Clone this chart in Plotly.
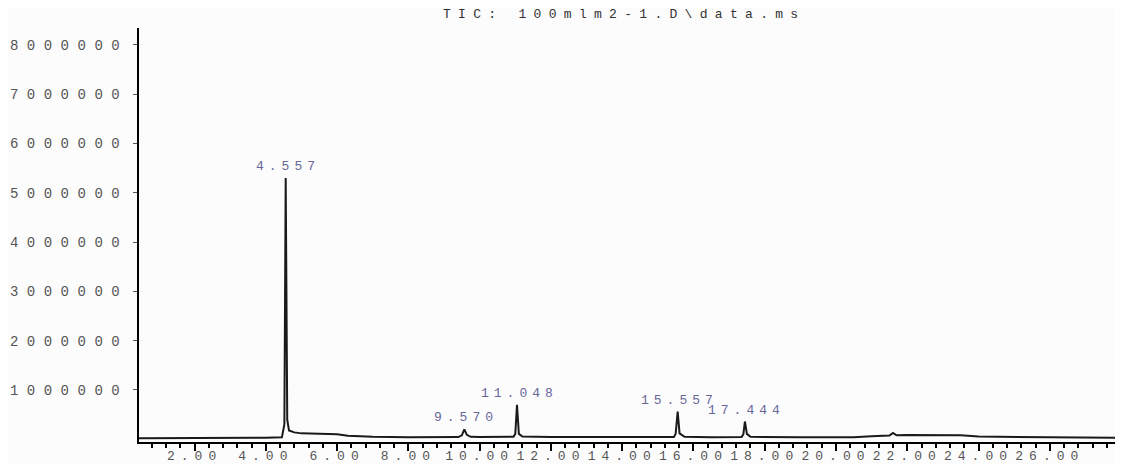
import plotly.graph_objects as go

# ---- data (retention time in min, abundance) ----
times = [0.44, 1.00, 2.00, 3.00, 4.00, 4.45, 4.52, 4.557, 4.60, 4.65, 4.80, 5.00,
         5.50, 6.00, 6.30, 7.00, 8.00, 9.40, 9.50, 9.570, 9.64, 9.75, 10.00,
         10.95, 11.00, 11.048, 11.10, 11.20, 12.00, 14.00, 15.45, 15.50, 15.557,
         15.61, 15.75, 16.50, 17.35, 17.40, 17.444, 17.50, 17.60, 19.00, 20.50,
         21.00, 21.50, 21.60, 21.70, 22.00, 22.50, 23.50, 24.00, 26.00, 27.83]
abundance = [20000, 20000, 25000, 25000, 30000, 40000, 300000, 5300000, 400000,
             180000, 140000, 120000, 110000, 100000, 70000, 50000, 40000, 45000,
             80000, 200000, 90000, 50000, 45000, 50000, 110000, 700000, 110000,
             55000, 45000, 40000, 45000, 110000, 560000, 120000, 50000, 40000,
             45000, 100000, 360000, 110000, 50000, 40000, 40000, 60000, 75000,
             130000, 80000, 85000, 85000, 80000, 55000, 35000, 30000]

peak_times = [4.557, 9.570, 11.048, 15.557, 17.444]
peak_labels = ["4.557", "9.570", "11.048", "15.557", "17.444"]

y_ticks = [1000000, 2000000, 3000000, 4000000, 5000000, 6000000, 7000000, 8000000]
x_ticks = [2.00, 4.00, 6.00, 8.00, 10.00, 12.00, 14.00, 16.00, 18.00, 20.00,
           22.00, 24.00, 26.00]
title_text = "TIC: 100mlm2-1.D\\data.ms"

MONO = "Liberation Mono, DejaVu Sans Mono, monospace"


def spaced(s, px):
    return f"<span style='letter-spacing:{px}px'>{s}</span>"


fig = go.Figure()
fig.add_trace(go.Scatter(x=times, y=abundance, mode="lines",
                         line=dict(color="#1a1a1a", width=2),
                         showlegend=False, hoverinfo="x+y"))

annotations = []
for t, lab in zip(peak_times, peak_labels):
    h = abundance[times.index(t)]
    annotations.append(dict(x=t, y=h, xref="x", yref="y", text=spaced(lab, 5),
                            showarrow=False, xanchor="center", yanchor="bottom",
                            yshift=2, xshift=2,
                            font=dict(family=MONO, size=13, color="#67679a")))

annotations.append(dict(x=0.497, y=1.033, xref="paper", yref="paper",
                        text=spaced(title_text, 7.3), showarrow=False,
                        xanchor="center", yanchor="middle",
                        font=dict(family=MONO, size=13, color="#333333")))

# the page body keeps its default 8px margin, so the figure is sized to fit
# inside the window without scrollbars
fig.update_layout(
    width=1107, height=456,
    margin=dict(l=131, r=0, t=20, b=22, pad=0),
    paper_bgcolor="#fcfcfc", plot_bgcolor="#fcfcfc",
    annotations=annotations,
    xaxis=dict(range=[0.44, 27.83], showgrid=False, zeroline=False,
               automargin=False,
               showline=True, linecolor="black", linewidth=2,
               ticks="outside", ticklen=7, tickwidth=1.5, tickcolor="black",
               ticklabelstandoff=-7,
               tickmode="array", tickvals=x_ticks,
               ticktext=[spaced(f"{v:.2f}", 6) for v in x_ticks],
               tickfont=dict(family=MONO, size=13, color="#555555"),
               minor=dict(tickmode="linear", tick0=0, dtick=0.4, ticks="outside",
                          ticklen=4, tickwidth=1.5, tickcolor="black",
                          showgrid=False)),
    yaxis=dict(range=[-55000, 8340000], showgrid=False, zeroline=False,
               automargin=False,
               showline=True, linecolor="black", linewidth=2,
               ticks="outside", ticklen=4, tickwidth=1, tickcolor="#555555",
               ticklabelstandoff=2,
               tickmode="array", tickvals=y_ticks,
               ticktext=[spaced(str(v), 8.5) for v in y_ticks],
               tickfont=dict(family=MONO, size=14, color="#555555")),
)

fig.write_html("out.html")
